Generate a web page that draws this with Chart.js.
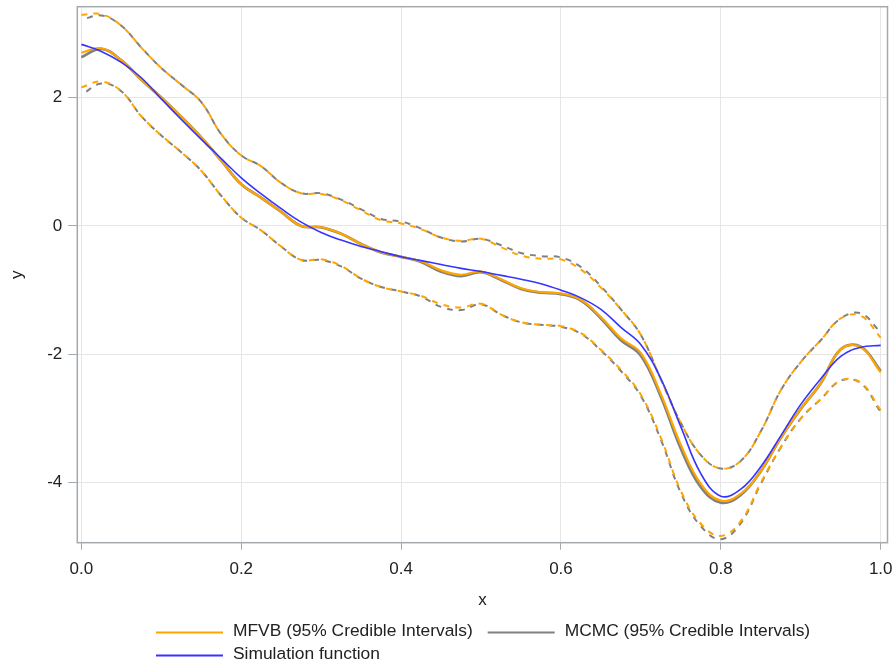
<!DOCTYPE html>
<html><head><meta charset="utf-8">
<script src="https://cdn.jsdelivr.net/npm/chart.js@4.4.1/dist/chart.umd.min.js"></script>
<style>html,body{margin:0;padding:0;background:#fff;}#wrap{width:894px;height:664px;}</style>
</head><body><div id="wrap"><canvas id="c" width="894" height="664"></canvas></div>
<script>
const xValues = [0,0.025,0.05,0.075,0.1,0.125,0.15,0.175,0.2,0.225,0.25,0.275,0.3,0.325,0.35,0.375,0.4,0.425,0.45,0.475,0.5,0.525,0.55,0.575,0.6,0.625,0.65,0.675,0.7,0.725,0.75,0.775,0.8,0.825,0.85,0.875,0.9,0.925,0.95,0.975,1.0];
const simulation = [2.83,2.72,2.55,2.31,1.98,1.66,1.35,1.05,0.75,0.50,0.27,0.06,-0.10,-0.22,-0.32,-0.40,-0.48,-0.54,-0.60,-0.66,-0.71,-0.77,-0.83,-0.90,-1.00,-1.12,-1.30,-1.58,-1.85,-2.38,-3.13,-3.86,-4.21,-4.10,-3.75,-3.27,-2.78,-2.38,-2.03,-1.89,-1.86];
const mfvbMean = [2.70,2.77,2.58,2.28,2.00,1.70,1.38,1.02,0.65,0.44,0.22,0.00,-0.02,-0.12,-0.28,-0.41,-0.48,-0.55,-0.69,-0.76,-0.71,-0.83,-0.97,-1.03,-1.05,-1.15,-1.42,-1.75,-1.98,-2.62,-3.41,-4.02,-4.28,-4.17,-3.82,-3.30,-2.85,-2.45,-1.92,-1.89,-2.28];
const mfvbUpper = [3.29,3.30,3.12,2.78,2.46,2.20,1.93,1.43,1.10,0.93,0.67,0.51,0.50,0.40,0.24,0.09,0.04,-0.05,-0.18,-0.23,-0.20,-0.33,-0.46,-0.51,-0.52,-0.68,-0.96,-1.30,-1.70,-2.39,-3.07,-3.57,-3.78,-3.66,-3.20,-2.56,-2.12,-1.78,-1.44,-1.40,-1.74];
const mfvbLower = [2.16,2.25,2.10,1.71,1.41,1.15,0.86,0.47,0.13,-0.07,-0.32,-0.53,-0.52,-0.62,-0.82,-0.95,-1.02,-1.09,-1.22,-1.27,-1.21,-1.38,-1.50,-1.54,-1.56,-1.67,-1.93,-2.24,-2.63,-3.30,-4.13,-4.64,-4.83,-4.60,-4.00,-3.45,-3.00,-2.70,-2.41,-2.44,-2.87];
const mcmcMean = [2.63,2.76,2.58,2.28,2.00,1.70,1.38,1.02,0.65,0.44,0.22,0.00,-0.02,-0.12,-0.28,-0.41,-0.48,-0.56,-0.71,-0.78,-0.72,-0.84,-0.98,-1.04,-1.06,-1.16,-1.44,-1.78,-2.02,-2.66,-3.47,-4.07,-4.31,-4.19,-3.82,-3.30,-2.85,-2.45,-1.92,-1.88,-2.26];
const mcmcUpper = [3.21,3.28,3.12,2.78,2.46,2.20,1.93,1.43,1.10,0.93,0.67,0.51,0.51,0.41,0.26,0.11,0.07,-0.04,-0.18,-0.24,-0.20,-0.30,-0.42,-0.47,-0.49,-0.64,-0.94,-1.30,-1.70,-2.39,-3.07,-3.57,-3.78,-3.66,-3.20,-2.56,-2.12,-1.78,-1.44,-1.36,-1.66];
const mcmcLower = [2.04,2.22,2.10,1.71,1.41,1.15,0.86,0.47,0.13,-0.07,-0.32,-0.53,-0.53,-0.63,-0.82,-0.95,-1.02,-1.10,-1.26,-1.31,-1.22,-1.38,-1.50,-1.54,-1.57,-1.68,-1.94,-2.26,-2.65,-3.33,-4.16,-4.68,-4.88,-4.63,-4.02,-3.45,-3.00,-2.70,-2.41,-2.45,-2.90];
const xTickValues = [0,0.2,0.4,0.6,0.8,1.0];
const yTickValues = [-4,-2,0,2];
const legendLabels = ['MFVB (95% Credible Intervals)','MCMC (95% Credible Intervals)','Simulation function'];
const xTitle = 'x';
const yTitle = 'y';

const ORANGE = '#FFA500', GRAY = '#808080', BLUE = '#3535ff';
const FONT = '"Liberation Sans", Arial, sans-serif';
const TEXT = '#222222';
const FRAME = '#a4a9ae';

function pts(arr){ return xValues.map((x,i)=>({x:x,y:arr[i]})); }

function ds(label, arr, color, width, dash, dashOff){
  return {label:label, data:pts(arr), borderColor:color, backgroundColor:color,
    borderWidth:width, borderDash:dash||[], borderDashOffset:dashOff||0,
    pointRadius:0, fill:false, tension:0.4, cubicInterpolationMode:'default'};
}

const datasets = [
  ds(legendLabels[2], simulation, BLUE, 1.6),
  ds(legendLabels[0], mfvbMean, ORANGE, 2.2),
  ds(legendLabels[0]+' upper', mfvbUpper, ORANGE, 2, [6,6], 0),
  ds(legendLabels[0]+' lower', mfvbLower, ORANGE, 2, [6,6], 0),
  ds(legendLabels[1], mcmcMean, GRAY, 2.8),
  ds(legendLabels[1]+' upper', mcmcUpper, GRAY, 2, [6,6], 6),
  ds(legendLabels[1]+' lower', mcmcLower, GRAY, 2, [6,6], 6)
];

const framePlugin = {
  id:'frame',
  beforeDatasetsDraw(chart){
    const a = chart.chartArea, c = chart.ctx;
    c.save(); c.strokeStyle = FRAME; c.lineWidth = 1.5;
    c.strokeRect(a.left, a.top, a.right-a.left, a.bottom-a.top);
    c.restore();
  }
};

const legendPlugin = {
  id:'customLegend',
  afterDraw(chart){
    const c = chart.ctx;
    c.save();
    c.font = '17.4px ' + FONT;
    c.textBaseline = 'middle';
    c.fillStyle = TEXT;
    const lineLen = 67, gap = 10, itemGap = 15;
    const items = [
      {label:legendLabels[0], color:ORANGE, row:0},
      {label:legendLabels[1], color:GRAY, row:0},
      {label:legendLabels[2], color:BLUE, row:1}
    ];
    const rowY = [632, 655];
    const startX = 156;
    let x = startX;
    let prevRow = 0;
    items.forEach(it => {
      if (it.row !== prevRow){ x = startX; prevRow = it.row; }
      const y = rowY[it.row];
      c.strokeStyle = it.color; c.lineWidth = 2;
      c.beginPath(); c.moveTo(x, y+0.5); c.lineTo(x+lineLen, y+0.5); c.stroke();
      c.fillText(it.label, x+lineLen+gap, y-0.5);
      x += lineLen + gap + c.measureText(it.label).width + itemGap;
    });
    c.restore();
  }
};

new Chart(document.getElementById('c'), {
  type:'line',
  data:{datasets:datasets},
  plugins:[framePlugin, legendPlugin],
  options:{
    responsive:false, animation:false, devicePixelRatio:1,
    layout:{padding:{top:6.7, right:6.5, bottom:53.8, left:0}},
    plugins:{legend:{display:false}, tooltip:{enabled:false}},
    scales:{
      x:{type:'linear', min:-0.0051, max:1.0085,
        afterBuildTicks(s){ s.ticks = xTickValues.map(v=>({value:v})); },
        afterFit(s){ s.height = 67.5; s.paddingLeft = 0; s.paddingRight = 0; },
        grid:{color:'#e6e6e6', tickColor:FRAME, tickLength:7, lineWidth:1},
        border:{display:false},
        ticks:{color:TEXT, font:{family:FONT, size:17}, padding:9, maxRotation:0,
          callback:(v)=>Number(v).toFixed(1)},
        title:{display:true, text:xTitle, color:TEXT, font:{family:FONT, size:17}, padding:{top:0,bottom:0}}
      },
      y:{type:'linear', min:-4.935, max:3.417,
        afterBuildTicks(s){ s.ticks = yTickValues.map(v=>({value:v})); },
        afterFit(s){ s.width = 77.3; s.paddingTop = 0; s.paddingBottom = 0; },
        grid:{color:'#e6e6e6', tickColor:FRAME, tickLength:9, lineWidth:1},
        border:{display:false},
        ticks:{color:TEXT, font:{family:FONT, size:17}, padding:6,
          callback:(v)=>String(v)},
        title:{display:true, text:yTitle, color:TEXT, font:{family:FONT, size:17}, padding:{top:7,bottom:0}}
      }
    }
  }
});
</script></body></html>
